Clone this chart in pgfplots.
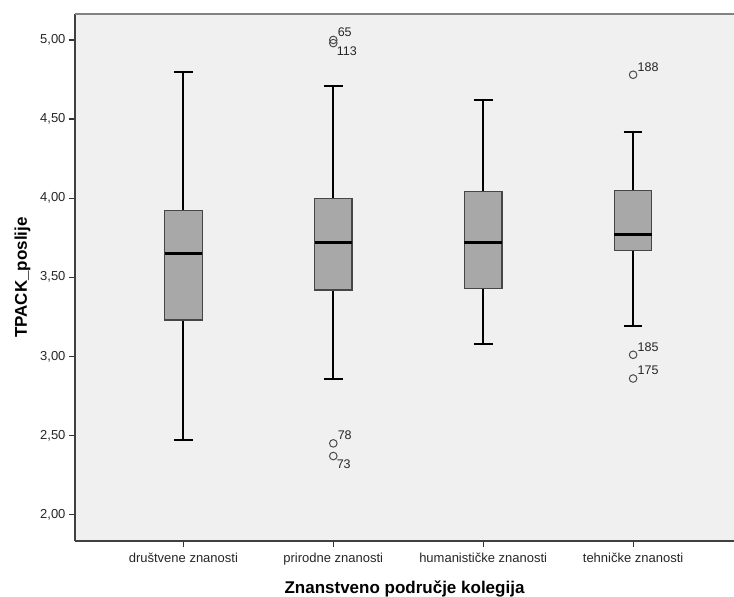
\documentclass[border=0pt]{standalone}
\usepackage{pgfplots}
\pgfplotsset{compat=1.18}
\usepgfplotslibrary{statistics}
\usepackage{fontspec}
\setmainfont{Liberation Sans}
\definecolor{bgfill}{RGB}{240,240,240}
\definecolor{boxfill}{RGB}{168,168,168}
\definecolor{boxedge}{RGB}{70,70,70}
\definecolor{topline}{RGB}{130,130,130}

\begin{document}
\begin{tikzpicture}
\begin{axis}[
    name=ax,
    scale only axis,
    width=659pt, height=527pt,
    xmin=-0.723, xmax=3.673,
    ymin=1.833, ymax=5.164,
    axis background/.style={fill=bgfill},
    axis x line*=bottom, axis y line*=left,
    axis line style={-, line width=1.3pt, black!75},
    xtick={0,1,2,3},
    xticklabels={društvene znanosti, prirodne znanosti, humanističke znanosti, tehničke znanosti},
    ytick={2,2.5,3,3.5,4,4.5,5},
    yticklabel style={/pgf/number format/.cd, fixed, fixed zerofill, precision=2, use comma, assume math mode=true},
    ticklabel style={font=\fontsize{13}{15}\selectfont, text=black!85},
    xticklabel style={yshift=-3pt},
    tick style={black!80, line width=1.2pt},
    tick align=outside,
    major tick length=6pt,
    xlabel={Znanstveno područje kolegija},
    ylabel={TPACK\_poslije},
    label style={font=\fontsize{17}{20}\selectfont\bfseries},
    xlabel style={yshift=-8pt},
    ylabel style={yshift=3pt},
    boxplot/draw direction=y,
    boxplot/every box/.style={draw=boxedge, fill=boxfill, line width=1.2pt},
    boxplot/every whisker/.style={black, line width=2pt},
    boxplot/every median/.style={black, line width=2.6pt},
    clip=false,
]
\draw[topline, line width=1.8pt] (rel axis cs:0,1) -- (rel axis cs:1,1);

\addplot[boxplot prepared={draw position=0, lower whisker=2.47, lower quartile=3.23,
    median=3.65, upper quartile=3.92, upper whisker=4.80,
    box extend=0.25, whisker extend=0.125}] coordinates {};
\addplot[boxplot prepared={draw position=1, lower whisker=2.86, lower quartile=3.42,
    median=3.72, upper quartile=4.00, upper whisker=4.71,
    box extend=0.25, whisker extend=0.125}] coordinates {};
\addplot[boxplot prepared={draw position=2, lower whisker=3.08, lower quartile=3.43,
    median=3.72, upper quartile=4.04, upper whisker=4.62,
    box extend=0.25, whisker extend=0.125}] coordinates {};
\addplot[boxplot prepared={draw position=3, lower whisker=3.19, lower quartile=3.67,
    median=3.77, upper quartile=4.05, upper whisker=4.42,
    box extend=0.25, whisker extend=0.125}] coordinates {};

% outliers, label above right
\addplot[only marks, mark=o, mark size=3.8pt, mark options={draw=black!70, fill=bgfill, line width=1pt},
    nodes near coords, point meta=explicit symbolic,
    nodes near coords style={anchor=south west, inner sep=0pt, xshift=4pt, yshift=3pt,
        font=\fontsize{12.5}{14}\selectfont, text=black!85}]
    table[meta=lab] {
x y lab
1 5.00 65
1 2.45 78
3 4.78 188
3 3.01 185
3 2.86 175
};
% outliers, label below right
\addplot[only marks, mark=o, mark size=3.8pt, mark options={draw=black!70, fill=bgfill, line width=1pt},
    nodes near coords, point meta=explicit symbolic,
    nodes near coords style={anchor=north west, inner sep=0pt, xshift=3pt, yshift=-3pt,
        font=\fontsize{12.5}{14}\selectfont, text=black!85}]
    table[meta=lab] {
x y lab
1 4.98 113
1 2.37 73
};
\end{axis}
\pgfresetboundingbox
\path ([shift={(-75pt,-56pt)}]ax.south west) rectangle ([shift={(0pt,14pt)}]ax.north east);
\end{tikzpicture}
\end{document}
